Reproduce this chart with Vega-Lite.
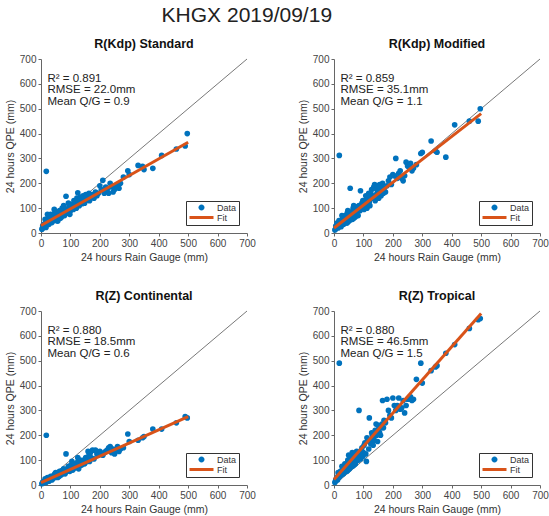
{
  "$schema": "https://vega.github.io/schema/vega-lite/v6.json",
  "title": {"text": "KHGX 2019/09/19", "fontSize": 21, "fontWeight": "normal", "color": "#222", "anchor": "middle", "dx": -30, "offset": 12},
  "padding": {"left": 5, "top": 4, "right": 5, "bottom": 5},
  "datasets": {
    "points": [
      {"panel":"S","gauge":5,"qpe":20},{"panel":"S","gauge":8,"qpe":25},{"panel":"S","gauge":10,"qpe":35},{"panel":"S","gauge":12,"qpe":28},{"panel":"S","gauge":15,"qpe":40},{"panel":"S","gauge":18,"qpe":248},{"panel":"S","gauge":20,"qpe":45},{"panel":"S","gauge":22,"qpe":75},{"panel":"S","gauge":25,"qpe":38},{"panel":"S","gauge":28,"qpe":50},{"panel":"S","gauge":30,"qpe":60},{"panel":"S","gauge":32,"qpe":45},{"panel":"S","gauge":35,"qpe":55},{"panel":"S","gauge":38,"qpe":70},{"panel":"S","gauge":40,"qpe":48},{"panel":"S","gauge":42,"qpe":62},{"panel":"S","gauge":45,"qpe":95},{"panel":"S","gauge":48,"qpe":55},{"panel":"S","gauge":50,"qpe":65},{"panel":"S","gauge":52,"qpe":50},{"panel":"S","gauge":55,"qpe":72},{"panel":"S","gauge":58,"qpe":60},{"panel":"S","gauge":60,"qpe":80},{"panel":"S","gauge":62,"qpe":58},{"panel":"S","gauge":65,"qpe":70},{"panel":"S","gauge":68,"qpe":85},{"panel":"S","gauge":70,"qpe":65},{"panel":"S","gauge":72,"qpe":100},{"panel":"S","gauge":75,"qpe":78},{"panel":"S","gauge":78,"qpe":90},{"panel":"S","gauge":80,"qpe":70},{"panel":"S","gauge":85,"qpe":148},{"panel":"S","gauge":88,"qpe":95},{"panel":"S","gauge":90,"qpe":80},{"panel":"S","gauge":95,"qpe":105},{"panel":"S","gauge":100,"qpe":90},{"panel":"S","gauge":105,"qpe":110},{"panel":"S","gauge":110,"qpe":95},{"panel":"S","gauge":115,"qpe":120},{"panel":"S","gauge":120,"qpe":100},{"panel":"S","gauge":125,"qpe":162},{"panel":"S","gauge":130,"qpe":110},{"panel":"S","gauge":135,"qpe":125},{"panel":"S","gauge":140,"qpe":118},{"panel":"S","gauge":145,"qpe":135},{"panel":"S","gauge":150,"qpe":128},{"panel":"S","gauge":155,"qpe":140},{"panel":"S","gauge":160,"qpe":150},{"panel":"S","gauge":165,"qpe":130},{"panel":"S","gauge":170,"qpe":145},{"panel":"S","gauge":175,"qpe":155},{"panel":"S","gauge":180,"qpe":140},{"panel":"S","gauge":190,"qpe":150},{"panel":"S","gauge":200,"qpe":190},{"panel":"S","gauge":210,"qpe":212},{"panel":"S","gauge":215,"qpe":160},{"panel":"S","gauge":225,"qpe":175},{"panel":"S","gauge":235,"qpe":200},{"panel":"S","gauge":240,"qpe":185},{"panel":"S","gauge":245,"qpe":165},{"panel":"S","gauge":250,"qpe":175},{"panel":"S","gauge":255,"qpe":190},{"panel":"S","gauge":265,"qpe":180},{"panel":"S","gauge":280,"qpe":225},{"panel":"S","gauge":295,"qpe":250},{"panel":"S","gauge":300,"qpe":235},{"panel":"S","gauge":330,"qpe":272},{"panel":"S","gauge":345,"qpe":268},{"panel":"S","gauge":350,"qpe":255},{"panel":"S","gauge":380,"qpe":260},{"panel":"S","gauge":410,"qpe":312},{"panel":"S","gauge":460,"qpe":338},{"panel":"S","gauge":490,"qpe":350},{"panel":"S","gauge":497,"qpe":400},
      {"panel":"S","gauge":3,"qpe":15},{"panel":"S","gauge":6,"qpe":30},{"panel":"S","gauge":14,"qpe":55},{"panel":"S","gauge":17,"qpe":22},{"panel":"S","gauge":24,"qpe":62},{"panel":"S","gauge":27,"qpe":35},{"panel":"S","gauge":33,"qpe":75},{"panel":"S","gauge":37,"qpe":42},{"panel":"S","gauge":44,"qpe":58},{"panel":"S","gauge":47,"qpe":80},{"panel":"S","gauge":53,"qpe":85},{"panel":"S","gauge":57,"qpe":48},{"panel":"S","gauge":63,"qpe":90},{"panel":"S","gauge":67,"qpe":60},{"panel":"S","gauge":73,"qpe":75},{"panel":"S","gauge":77,"qpe":110},{"panel":"S","gauge":82,"qpe":88},{"panel":"S","gauge":93,"qpe":120},{"panel":"S","gauge":98,"qpe":75},{"panel":"S","gauge":102,"qpe":115},{"panel":"S","gauge":108,"qpe":100},{"panel":"S","gauge":112,"qpe":130},{"panel":"S","gauge":118,"qpe":105},{"panel":"S","gauge":122,"qpe":140},{"panel":"S","gauge":128,"qpe":120},{"panel":"S","gauge":133,"qpe":145},{"panel":"S","gauge":138,"qpe":130},{"panel":"S","gauge":143,"qpe":150},{"panel":"S","gauge":148,"qpe":120},{"panel":"S","gauge":152,"qpe":155},{"panel":"S","gauge":158,"qpe":135},{"panel":"S","gauge":163,"qpe":160},{"panel":"S","gauge":168,"qpe":150},{"panel":"S","gauge":185,"qpe":165},{"panel":"S","gauge":195,"qpe":160},{"panel":"S","gauge":205,"qpe":175},{"panel":"S","gauge":220,"qpe":185},{"panel":"S","gauge":230,"qpe":160},{"panel":"S","gauge":260,"qpe":195},{"panel":"S","gauge":270,"qpe":200},
      {"panel":"M","gauge":5,"qpe":15},{"panel":"M","gauge":8,"qpe":22},{"panel":"M","gauge":10,"qpe":40},{"panel":"M","gauge":12,"qpe":25},{"panel":"M","gauge":15,"qpe":35},{"panel":"M","gauge":18,"qpe":312},{"panel":"M","gauge":20,"qpe":30},{"panel":"M","gauge":22,"qpe":45},{"panel":"M","gauge":25,"qpe":35},{"panel":"M","gauge":28,"qpe":55},{"panel":"M","gauge":30,"qpe":40},{"panel":"M","gauge":32,"qpe":60},{"panel":"M","gauge":35,"qpe":45},{"panel":"M","gauge":38,"qpe":70},{"panel":"M","gauge":40,"qpe":50},{"panel":"M","gauge":42,"qpe":65},{"panel":"M","gauge":45,"qpe":80},{"panel":"M","gauge":48,"qpe":45},{"panel":"M","gauge":50,"qpe":60},{"panel":"M","gauge":52,"qpe":75},{"panel":"M","gauge":55,"qpe":180},{"panel":"M","gauge":58,"qpe":55},{"panel":"M","gauge":60,"qpe":85},{"panel":"M","gauge":62,"qpe":70},{"panel":"M","gauge":65,"qpe":100},{"panel":"M","gauge":68,"qpe":60},{"panel":"M","gauge":70,"qpe":90},{"panel":"M","gauge":72,"qpe":75},{"panel":"M","gauge":75,"qpe":105},{"panel":"M","gauge":78,"qpe":80},{"panel":"M","gauge":80,"qpe":95},{"panel":"M","gauge":85,"qpe":110},{"panel":"M","gauge":88,"qpe":90},{"panel":"M","gauge":90,"qpe":170},{"panel":"M","gauge":95,"qpe":120},{"panel":"M","gauge":100,"qpe":105},{"panel":"M","gauge":105,"qpe":130},{"panel":"M","gauge":110,"qpe":115},{"panel":"M","gauge":115,"qpe":140},{"panel":"M","gauge":120,"qpe":125},{"panel":"M","gauge":125,"qpe":160},{"panel":"M","gauge":130,"qpe":150},{"panel":"M","gauge":135,"qpe":185},{"panel":"M","gauge":140,"qpe":130},{"panel":"M","gauge":145,"qpe":175},{"panel":"M","gauge":150,"qpe":160},{"panel":"M","gauge":155,"qpe":195},{"panel":"M","gauge":160,"qpe":150},{"panel":"M","gauge":165,"qpe":200},{"panel":"M","gauge":170,"qpe":180},{"panel":"M","gauge":175,"qpe":165},{"panel":"M","gauge":180,"qpe":190},{"panel":"M","gauge":190,"qpe":225},{"panel":"M","gauge":200,"qpe":235},{"panel":"M","gauge":210,"qpe":300},{"panel":"M","gauge":215,"qpe":220},{"panel":"M","gauge":225,"qpe":250},{"panel":"M","gauge":235,"qpe":210},{"panel":"M","gauge":240,"qpe":230},{"panel":"M","gauge":245,"qpe":285},{"panel":"M","gauge":250,"qpe":270},{"panel":"M","gauge":255,"qpe":265},{"panel":"M","gauge":265,"qpe":250},{"panel":"M","gauge":280,"qpe":275},{"panel":"M","gauge":295,"qpe":320},{"panel":"M","gauge":300,"qpe":325},{"panel":"M","gauge":330,"qpe":370},{"panel":"M","gauge":345,"qpe":330},{"panel":"M","gauge":350,"qpe":325},{"panel":"M","gauge":380,"qpe":305},{"panel":"M","gauge":410,"qpe":435},{"panel":"M","gauge":460,"qpe":450},{"panel":"M","gauge":490,"qpe":450},{"panel":"M","gauge":497,"qpe":500},
      {"panel":"M","gauge":3,"qpe":12},{"panel":"M","gauge":6,"qpe":28},{"panel":"M","gauge":14,"qpe":20},{"panel":"M","gauge":17,"qpe":50},{"panel":"M","gauge":24,"qpe":25},{"panel":"M","gauge":27,"qpe":70},{"panel":"M","gauge":33,"qpe":35},{"panel":"M","gauge":37,"qpe":55},{"panel":"M","gauge":44,"qpe":40},{"panel":"M","gauge":47,"qpe":90},{"panel":"M","gauge":53,"qpe":50},{"panel":"M","gauge":57,"qpe":70},{"panel":"M","gauge":63,"qpe":55},{"panel":"M","gauge":67,"qpe":110},{"panel":"M","gauge":73,"qpe":65},{"panel":"M","gauge":77,"qpe":85},{"panel":"M","gauge":82,"qpe":70},{"panel":"M","gauge":93,"qpe":100},{"panel":"M","gauge":98,"qpe":130},{"panel":"M","gauge":102,"qpe":95},{"panel":"M","gauge":108,"qpe":150},{"panel":"M","gauge":112,"qpe":100},{"panel":"M","gauge":118,"qpe":160},{"panel":"M","gauge":122,"qpe":110},{"panel":"M","gauge":128,"qpe":175},{"panel":"M","gauge":133,"qpe":140},{"panel":"M","gauge":138,"qpe":195},{"panel":"M","gauge":143,"qpe":155},{"panel":"M","gauge":148,"qpe":190},{"panel":"M","gauge":152,"qpe":140},{"panel":"M","gauge":158,"qpe":175},{"panel":"M","gauge":163,"qpe":185},{"panel":"M","gauge":168,"qpe":160},{"panel":"M","gauge":185,"qpe":210},{"panel":"M","gauge":195,"qpe":195},{"panel":"M","gauge":205,"qpe":230},{"panel":"M","gauge":220,"qpe":240},{"panel":"M","gauge":230,"qpe":220},{"panel":"M","gauge":260,"qpe":280},{"panel":"M","gauge":270,"qpe":260},
      {"panel":"C","gauge":5,"qpe":8},{"panel":"C","gauge":8,"qpe":10},{"panel":"C","gauge":10,"qpe":15},{"panel":"C","gauge":12,"qpe":12},{"panel":"C","gauge":15,"qpe":18},{"panel":"C","gauge":18,"qpe":200},{"panel":"C","gauge":20,"qpe":20},{"panel":"C","gauge":22,"qpe":30},{"panel":"C","gauge":25,"qpe":18},{"panel":"C","gauge":28,"qpe":25},{"panel":"C","gauge":30,"qpe":30},{"panel":"C","gauge":32,"qpe":22},{"panel":"C","gauge":35,"qpe":28},{"panel":"C","gauge":38,"qpe":35},{"panel":"C","gauge":40,"qpe":25},{"panel":"C","gauge":42,"qpe":32},{"panel":"C","gauge":45,"qpe":40},{"panel":"C","gauge":48,"qpe":30},{"panel":"C","gauge":50,"qpe":50},{"panel":"C","gauge":52,"qpe":35},{"panel":"C","gauge":55,"qpe":38},{"panel":"C","gauge":58,"qpe":45},{"panel":"C","gauge":60,"qpe":50},{"panel":"C","gauge":62,"qpe":35},{"panel":"C","gauge":65,"qpe":45},{"panel":"C","gauge":68,"qpe":55},{"panel":"C","gauge":70,"qpe":42},{"panel":"C","gauge":72,"qpe":55},{"panel":"C","gauge":75,"qpe":50},{"panel":"C","gauge":78,"qpe":60},{"panel":"C","gauge":80,"qpe":48},{"panel":"C","gauge":85,"qpe":125},{"panel":"C","gauge":88,"qpe":55},{"panel":"C","gauge":90,"qpe":65},{"panel":"C","gauge":95,"qpe":60},{"panel":"C","gauge":100,"qpe":70},{"panel":"C","gauge":105,"qpe":95},{"panel":"C","gauge":110,"qpe":65},{"panel":"C","gauge":115,"qpe":80},{"panel":"C","gauge":120,"qpe":70},{"panel":"C","gauge":125,"qpe":110},{"panel":"C","gauge":130,"qpe":75},{"panel":"C","gauge":135,"qpe":90},{"panel":"C","gauge":140,"qpe":85},{"panel":"C","gauge":145,"qpe":100},{"panel":"C","gauge":150,"qpe":90},{"panel":"C","gauge":155,"qpe":105},{"panel":"C","gauge":160,"qpe":135},{"panel":"C","gauge":165,"qpe":95},{"panel":"C","gauge":170,"qpe":110},{"panel":"C","gauge":175,"qpe":140},{"panel":"C","gauge":180,"qpe":105},{"panel":"C","gauge":190,"qpe":125},{"panel":"C","gauge":200,"qpe":135},{"panel":"C","gauge":210,"qpe":120},{"panel":"C","gauge":215,"qpe":130},{"panel":"C","gauge":225,"qpe":140},{"panel":"C","gauge":235,"qpe":155},{"panel":"C","gauge":240,"qpe":130},{"panel":"C","gauge":245,"qpe":145},{"panel":"C","gauge":250,"qpe":125},{"panel":"C","gauge":255,"qpe":140},{"panel":"C","gauge":265,"qpe":135},{"panel":"C","gauge":280,"qpe":150},{"panel":"C","gauge":295,"qpe":205},{"panel":"C","gauge":300,"qpe":175},{"panel":"C","gauge":330,"qpe":180},{"panel":"C","gauge":345,"qpe":190},{"panel":"C","gauge":350,"qpe":195},{"panel":"C","gauge":380,"qpe":225},{"panel":"C","gauge":410,"qpe":225},{"panel":"C","gauge":460,"qpe":250},{"panel":"C","gauge":490,"qpe":275},{"panel":"C","gauge":497,"qpe":270},
      {"panel":"C","gauge":3,"qpe":5},{"panel":"C","gauge":6,"qpe":12},{"panel":"C","gauge":14,"qpe":25},{"panel":"C","gauge":17,"qpe":10},{"panel":"C","gauge":24,"qpe":28},{"panel":"C","gauge":27,"qpe":15},{"panel":"C","gauge":33,"qpe":35},{"panel":"C","gauge":37,"qpe":20},{"panel":"C","gauge":44,"qpe":30},{"panel":"C","gauge":47,"qpe":45},{"panel":"C","gauge":53,"qpe":42},{"panel":"C","gauge":57,"qpe":30},{"panel":"C","gauge":63,"qpe":55},{"panel":"C","gauge":67,"qpe":40},{"panel":"C","gauge":73,"qpe":48},{"panel":"C","gauge":77,"qpe":65},{"panel":"C","gauge":82,"qpe":45},{"panel":"C","gauge":93,"qpe":75},{"panel":"C","gauge":98,"qpe":55},{"panel":"C","gauge":102,"qpe":80},{"panel":"C","gauge":108,"qpe":60},{"panel":"C","gauge":112,"qpe":85},{"panel":"C","gauge":118,"qpe":75},{"panel":"C","gauge":122,"qpe":90},{"panel":"C","gauge":128,"qpe":65},{"panel":"C","gauge":133,"qpe":100},{"panel":"C","gauge":138,"qpe":80},{"panel":"C","gauge":143,"qpe":95},{"panel":"C","gauge":148,"qpe":85},{"panel":"C","gauge":152,"qpe":110},{"panel":"C","gauge":158,"qpe":100},{"panel":"C","gauge":163,"qpe":120},{"panel":"C","gauge":168,"qpe":130},{"panel":"C","gauge":185,"qpe":140},{"panel":"C","gauge":195,"qpe":120},{"panel":"C","gauge":205,"qpe":125},{"panel":"C","gauge":220,"qpe":135},{"panel":"C","gauge":230,"qpe":150},{"panel":"C","gauge":260,"qpe":155},{"panel":"C","gauge":270,"qpe":145},
      {"panel":"T","gauge":5,"qpe":15},{"panel":"T","gauge":8,"qpe":25},{"panel":"T","gauge":10,"qpe":30},{"panel":"T","gauge":12,"qpe":20},{"panel":"T","gauge":15,"qpe":40},{"panel":"T","gauge":18,"qpe":490},{"panel":"T","gauge":20,"qpe":35},{"panel":"T","gauge":22,"qpe":55},{"panel":"T","gauge":25,"qpe":40},{"panel":"T","gauge":28,"qpe":60},{"panel":"T","gauge":30,"qpe":50},{"panel":"T","gauge":32,"qpe":45},{"panel":"T","gauge":35,"qpe":65},{"panel":"T","gauge":38,"qpe":55},{"panel":"T","gauge":40,"qpe":70},{"panel":"T","gauge":42,"qpe":60},{"panel":"T","gauge":45,"qpe":80},{"panel":"T","gauge":48,"qpe":60},{"panel":"T","gauge":50,"qpe":120},{"panel":"T","gauge":52,"qpe":70},{"panel":"T","gauge":55,"qpe":80},{"panel":"T","gauge":58,"qpe":90},{"panel":"T","gauge":60,"qpe":75},{"panel":"T","gauge":62,"qpe":130},{"panel":"T","gauge":65,"qpe":95},{"panel":"T","gauge":68,"qpe":80},{"panel":"T","gauge":70,"qpe":105},{"panel":"T","gauge":72,"qpe":90},{"panel":"T","gauge":75,"qpe":120},{"panel":"T","gauge":78,"qpe":100},{"panel":"T","gauge":80,"qpe":110},{"panel":"T","gauge":85,"qpe":300},{"panel":"T","gauge":88,"qpe":120},{"panel":"T","gauge":90,"qpe":105},{"panel":"T","gauge":95,"qpe":150},{"panel":"T","gauge":100,"qpe":130},{"panel":"T","gauge":105,"qpe":170},{"panel":"T","gauge":110,"qpe":95},{"panel":"T","gauge":115,"qpe":180},{"panel":"T","gauge":120,"qpe":270},{"panel":"T","gauge":125,"qpe":165},{"panel":"T","gauge":130,"qpe":200},{"panel":"T","gauge":135,"qpe":180},{"panel":"T","gauge":140,"qpe":220},{"panel":"T","gauge":145,"qpe":200},{"panel":"T","gauge":150,"qpe":240},{"panel":"T","gauge":155,"qpe":210},{"panel":"T","gauge":160,"qpe":230},{"panel":"T","gauge":165,"qpe":340},{"panel":"T","gauge":170,"qpe":260},{"panel":"T","gauge":175,"qpe":250},{"panel":"T","gauge":180,"qpe":345},{"panel":"T","gauge":190,"qpe":280},{"panel":"T","gauge":200,"qpe":350},{"panel":"T","gauge":210,"qpe":300},{"panel":"T","gauge":215,"qpe":320},{"panel":"T","gauge":225,"qpe":305},{"panel":"T","gauge":235,"qpe":340},{"panel":"T","gauge":240,"qpe":290},{"panel":"T","gauge":245,"qpe":320},{"panel":"T","gauge":250,"qpe":345},{"panel":"T","gauge":255,"qpe":345},{"panel":"T","gauge":265,"qpe":340},{"panel":"T","gauge":280,"qpe":425},{"panel":"T","gauge":295,"qpe":490},{"panel":"T","gauge":300,"qpe":410},{"panel":"T","gauge":330,"qpe":460},{"panel":"T","gauge":345,"qpe":475},{"panel":"T","gauge":350,"qpe":480},{"panel":"T","gauge":380,"qpe":530},{"panel":"T","gauge":410,"qpe":565},{"panel":"T","gauge":460,"qpe":630},{"panel":"T","gauge":490,"qpe":665},{"panel":"T","gauge":497,"qpe":670},
      {"panel":"T","gauge":3,"qpe":10},{"panel":"T","gauge":6,"qpe":20},{"panel":"T","gauge":14,"qpe":50},{"panel":"T","gauge":17,"qpe":30},{"panel":"T","gauge":24,"qpe":45},{"panel":"T","gauge":27,"qpe":75},{"panel":"T","gauge":33,"qpe":50},{"panel":"T","gauge":37,"qpe":85},{"panel":"T","gauge":44,"qpe":55},{"panel":"T","gauge":47,"qpe":100},{"panel":"T","gauge":53,"qpe":65},{"panel":"T","gauge":57,"qpe":110},{"panel":"T","gauge":63,"qpe":75},{"panel":"T","gauge":67,"qpe":125},{"panel":"T","gauge":73,"qpe":85},{"panel":"T","gauge":77,"qpe":135},{"panel":"T","gauge":82,"qpe":100},{"panel":"T","gauge":93,"qpe":140},{"panel":"T","gauge":98,"qpe":115},{"panel":"T","gauge":102,"qpe":160},{"panel":"T","gauge":108,"qpe":125},{"panel":"T","gauge":112,"qpe":190},{"panel":"T","gauge":118,"qpe":145},{"panel":"T","gauge":122,"qpe":175},{"panel":"T","gauge":128,"qpe":210},{"panel":"T","gauge":133,"qpe":160},{"panel":"T","gauge":138,"qpe":195},{"panel":"T","gauge":143,"qpe":245},{"panel":"T","gauge":148,"qpe":175},{"panel":"T","gauge":152,"qpe":225},{"panel":"T","gauge":158,"qpe":200},{"panel":"T","gauge":163,"qpe":245},{"panel":"T","gauge":168,"qpe":230},{"panel":"T","gauge":185,"qpe":300},{"panel":"T","gauge":195,"qpe":270},{"panel":"T","gauge":205,"qpe":320},{"panel":"T","gauge":220,"qpe":350},{"panel":"T","gauge":230,"qpe":310},{"panel":"T","gauge":260,"qpe":355},{"panel":"T","gauge":270,"qpe":345}
    ],
    "fits": [
      {"panel":"S","gauge":0,"qpe":30},{"panel":"S","gauge":500,"qpe":365},
      {"panel":"M","gauge":0,"qpe":20},{"panel":"M","gauge":500,"qpe":480},
      {"panel":"C","gauge":0,"qpe":10},{"panel":"C","gauge":500,"qpe":275},
      {"panel":"T","gauge":0,"qpe":22},{"panel":"T","gauge":500,"qpe":690}
    ],
    "stats": [
      {"panel":"S","stats":"R² = 0.891\nRMSE = 22.0mm\nMean Q/G = 0.9"},
      {"panel":"M","stats":"R² = 0.859\nRMSE = 35.1mm\nMean Q/G = 1.1"},
      {"panel":"C","stats":"R² = 0.880\nRMSE = 18.5mm\nMean Q/G = 0.6"},
      {"panel":"T","stats":"R² = 0.880\nRMSE = 46.5mm\nMean Q/G = 1.5"}
    ],
    "one": [{}]
  },
  "columns": 2,
  "spacing": {"row": 26, "column": 42},
  "resolve": {"legend": {"color": "independent"}, "scale": {"color": "independent"}},
  "concat": [
    {
      "title": "R(Kdp) Standard", "width": 206, "height": 174,
      "layer": [
        {"data": {"name": "one"}, "mark": {"type": "rule", "color": "#555", "strokeWidth": 0.8}, "encoding": {"x": {"datum": 0, "type": "quantitative", "scale": {"domain": [0, 700], "nice": false}}, "y": {"datum": 0, "type": "quantitative", "scale": {"domain": [0, 700], "nice": false}}, "x2": {"datum": 700}, "y2": {"datum": 700}}},
        {"data": {"name": "points"}, "transform": [{"filter": "datum.panel === 'S'"}], "mark": {"type": "point", "filled": true, "size": 32, "opacity": 1},
          "encoding": {"x": {"field": "gauge", "type": "quantitative", "title": "24 hours Rain Gauge (mm)"}, "y": {"field": "qpe", "type": "quantitative", "title": "24 hours QPE (mm)"},
            "color": {"datum": "Data", "scale": {"domain": ["Data", "Fit"], "range": ["#0072BD", "#D95319"]},
              "legend": {"encode": {"symbols": {"update": {"shape": {"signal": "datum.value === 'Fit' ? 'M-1,-0.5H7V0.5H-1Z' : 'M2,0A1,1 0 1,0 4,0A1,1 0 1,0 2,0Z'"}, "size": {"value": 36}, "fill": {"signal": "datum.value === 'Fit' ? '#D95319' : '#0072BD'"}, "strokeWidth": {"value": 0}, "opacity": {"value": 1}}}}}}}},
        {"data": {"name": "fits"}, "transform": [{"filter": "datum.panel === 'S'"}], "mark": {"type": "line", "strokeWidth": 3, "color": "#D95319"}, "encoding": {"x": {"field": "gauge", "type": "quantitative"}, "y": {"field": "qpe", "type": "quantitative"}}},
        {"data": {"name": "stats"}, "transform": [{"filter": "datum.panel === 'S'"}], "mark": {"type": "text", "align": "left", "baseline": "top", "lineBreak": "\n", "fontSize": 11.5, "lineHeight": 11.5, "color": "#222"}, "encoding": {"x": {"datum": 22, "type": "quantitative"}, "y": {"datum": 644, "type": "quantitative"}, "text": {"field": "stats"}}}
      ]
    },
    {
      "title": "R(Kdp) Modified", "width": 206, "height": 174,
      "layer": [
        {"data": {"name": "one"}, "mark": {"type": "rule", "color": "#555", "strokeWidth": 0.8}, "encoding": {"x": {"datum": 0, "type": "quantitative", "scale": {"domain": [0, 700], "nice": false}}, "y": {"datum": 0, "type": "quantitative", "scale": {"domain": [0, 700], "nice": false}}, "x2": {"datum": 700}, "y2": {"datum": 700}}},
        {"data": {"name": "points"}, "transform": [{"filter": "datum.panel === 'M'"}], "mark": {"type": "point", "filled": true, "size": 32, "opacity": 1},
          "encoding": {"x": {"field": "gauge", "type": "quantitative", "title": "24 hours Rain Gauge (mm)"}, "y": {"field": "qpe", "type": "quantitative", "title": "24 hours QPE (mm)"},
            "color": {"datum": "Data", "scale": {"domain": ["Data", "Fit"], "range": ["#0072BD", "#D95319"]},
              "legend": {"encode": {"symbols": {"update": {"shape": {"signal": "datum.value === 'Fit' ? 'M-1,-0.5H7V0.5H-1Z' : 'M2,0A1,1 0 1,0 4,0A1,1 0 1,0 2,0Z'"}, "size": {"value": 36}, "fill": {"signal": "datum.value === 'Fit' ? '#D95319' : '#0072BD'"}, "strokeWidth": {"value": 0}, "opacity": {"value": 1}}}}}}}},
        {"data": {"name": "fits"}, "transform": [{"filter": "datum.panel === 'M'"}], "mark": {"type": "line", "strokeWidth": 3, "color": "#D95319"}, "encoding": {"x": {"field": "gauge", "type": "quantitative"}, "y": {"field": "qpe", "type": "quantitative"}}},
        {"data": {"name": "stats"}, "transform": [{"filter": "datum.panel === 'M'"}], "mark": {"type": "text", "align": "left", "baseline": "top", "lineBreak": "\n", "fontSize": 11.5, "lineHeight": 11.5, "color": "#222"}, "encoding": {"x": {"datum": 22, "type": "quantitative"}, "y": {"datum": 644, "type": "quantitative"}, "text": {"field": "stats"}}}
      ]
    },
    {
      "title": "R(Z) Continental", "width": 206, "height": 174,
      "layer": [
        {"data": {"name": "one"}, "mark": {"type": "rule", "color": "#555", "strokeWidth": 0.8}, "encoding": {"x": {"datum": 0, "type": "quantitative", "scale": {"domain": [0, 700], "nice": false}}, "y": {"datum": 0, "type": "quantitative", "scale": {"domain": [0, 700], "nice": false}}, "x2": {"datum": 700}, "y2": {"datum": 700}}},
        {"data": {"name": "points"}, "transform": [{"filter": "datum.panel === 'C'"}], "mark": {"type": "point", "filled": true, "size": 32, "opacity": 1},
          "encoding": {"x": {"field": "gauge", "type": "quantitative", "title": "24 hours Rain Gauge (mm)"}, "y": {"field": "qpe", "type": "quantitative", "title": "24 hours QPE (mm)"},
            "color": {"datum": "Data", "scale": {"domain": ["Data", "Fit"], "range": ["#0072BD", "#D95319"]},
              "legend": {"encode": {"symbols": {"update": {"shape": {"signal": "datum.value === 'Fit' ? 'M-1,-0.5H7V0.5H-1Z' : 'M2,0A1,1 0 1,0 4,0A1,1 0 1,0 2,0Z'"}, "size": {"value": 36}, "fill": {"signal": "datum.value === 'Fit' ? '#D95319' : '#0072BD'"}, "strokeWidth": {"value": 0}, "opacity": {"value": 1}}}}}}}},
        {"data": {"name": "fits"}, "transform": [{"filter": "datum.panel === 'C'"}], "mark": {"type": "line", "strokeWidth": 3, "color": "#D95319"}, "encoding": {"x": {"field": "gauge", "type": "quantitative"}, "y": {"field": "qpe", "type": "quantitative"}}},
        {"data": {"name": "stats"}, "transform": [{"filter": "datum.panel === 'C'"}], "mark": {"type": "text", "align": "left", "baseline": "top", "lineBreak": "\n", "fontSize": 11.5, "lineHeight": 11.5, "color": "#222"}, "encoding": {"x": {"datum": 22, "type": "quantitative"}, "y": {"datum": 644, "type": "quantitative"}, "text": {"field": "stats"}}}
      ]
    },
    {
      "title": "R(Z) Tropical", "width": 206, "height": 174,
      "layer": [
        {"data": {"name": "one"}, "mark": {"type": "rule", "color": "#555", "strokeWidth": 0.8}, "encoding": {"x": {"datum": 0, "type": "quantitative", "scale": {"domain": [0, 700], "nice": false}}, "y": {"datum": 0, "type": "quantitative", "scale": {"domain": [0, 700], "nice": false}}, "x2": {"datum": 700}, "y2": {"datum": 700}}},
        {"data": {"name": "points"}, "transform": [{"filter": "datum.panel === 'T'"}], "mark": {"type": "point", "filled": true, "size": 32, "opacity": 1},
          "encoding": {"x": {"field": "gauge", "type": "quantitative", "title": "24 hours Rain Gauge (mm)"}, "y": {"field": "qpe", "type": "quantitative", "title": "24 hours QPE (mm)"},
            "color": {"datum": "Data", "scale": {"domain": ["Data", "Fit"], "range": ["#0072BD", "#D95319"]},
              "legend": {"encode": {"symbols": {"update": {"shape": {"signal": "datum.value === 'Fit' ? 'M-1,-0.5H7V0.5H-1Z' : 'M2,0A1,1 0 1,0 4,0A1,1 0 1,0 2,0Z'"}, "size": {"value": 36}, "fill": {"signal": "datum.value === 'Fit' ? '#D95319' : '#0072BD'"}, "strokeWidth": {"value": 0}, "opacity": {"value": 1}}}}}}}},
        {"data": {"name": "fits"}, "transform": [{"filter": "datum.panel === 'T'"}], "mark": {"type": "line", "strokeWidth": 3, "color": "#D95319"}, "encoding": {"x": {"field": "gauge", "type": "quantitative"}, "y": {"field": "qpe", "type": "quantitative"}}},
        {"data": {"name": "stats"}, "transform": [{"filter": "datum.panel === 'T'"}], "mark": {"type": "text", "align": "left", "baseline": "top", "lineBreak": "\n", "fontSize": 11.5, "lineHeight": 11.5, "color": "#222"}, "encoding": {"x": {"datum": 22, "type": "quantitative"}, "y": {"datum": 644, "type": "quantitative"}, "text": {"field": "stats"}}}
      ]
    }
  ],
  "config": {
    "font": "Liberation Sans",
    "view": {"stroke": null},
    "title": {"fontSize": 12.5, "fontWeight": "bold", "color": "#111", "offset": 4},
    "legend": {"title": null, "orient": "bottom-right", "offset": 8, "padding": 2, "strokeColor": "#333", "fillColor": "white", "symbolSize": 36, "labelFontSize": 9, "labelColor": "#333", "rowPadding": 0, "labelOffset": 20, "symbolOpacity": 1},
    "axis": {"grid": false, "values": [0, 100, 200, 300, 400, 500, 600, 700], "labelFontSize": 10, "labelColor": "#444", "titleFontSize": 10.5, "titleFontWeight": "normal", "titleColor": "#333", "domainColor": "#666", "tickColor": "#666", "tickSize": 3, "labelPadding": 2, "titlePadding": 4, "labelFlush": false}
  }
}
